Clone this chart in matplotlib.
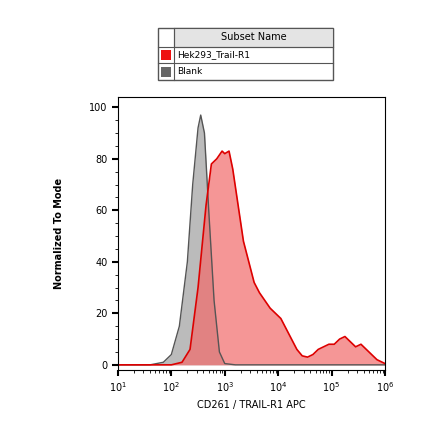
import numpy as np
import matplotlib
matplotlib.use("Agg")
import matplotlib.pyplot as plt
from matplotlib.patches import Rectangle
from matplotlib.ticker import LogLocator, NullFormatter

# data: log10 of intensity, normalized-to-mode value
blank_x = [1.0, 1.6, 1.85, 2.0, 2.15, 2.3, 2.4, 2.5, 2.55, 2.62, 2.7, 2.8, 2.9, 3.0, 3.2, 6.0]
blank_y = [0, 0, 1, 4, 15, 40, 70, 92, 97, 90, 60, 25, 5, 0.5, 0, 0]
red_x = [1.0, 2.0, 2.2, 2.35, 2.5, 2.65, 2.75, 2.85, 2.95, 3.0, 3.08, 3.15, 3.25, 3.35, 3.45, 3.55, 3.65,
         3.75, 3.85, 3.95, 4.05, 4.15, 4.25, 4.35, 4.45, 4.55, 4.65, 4.75, 4.85, 4.95, 5.05, 5.15,
         5.25, 5.35, 5.45, 5.55, 5.65, 5.75, 5.85, 6.0]
red_y = [0, 0, 1, 6, 30, 62, 78, 80, 83, 82, 83, 76, 62, 48, 40, 32, 28,
         25, 22, 20, 18, 14, 10, 6, 3.5, 3, 4, 6, 7, 8, 8, 10,
         11, 9, 7, 8, 6, 4, 2, 0.5]
legend_names = ["Hek293_Trail-R1", "Blank"]
legend_colors = ["#ee1111", "#666666"]

fig = plt.figure(figsize=(4.4, 4.41), dpi=100)
ax = fig.add_axes([0.268, 0.161, 0.607, 0.619])
bx = 10 ** np.array(blank_x)
rx = 10 ** np.array(red_x)
ax.fill_between(bx, blank_y, color="#b0b0b0", alpha=0.85, lw=0)
ax.plot(bx, blank_y, color="#555555", lw=1)
ax.fill_between(rx, red_y, color="#f26a6a", alpha=0.7, lw=0)
ax.plot(rx, red_y, color="#dd0000", lw=1.2)
ax.set_xscale("log")
ax.set_xlim(10, 1e6)
ax.set_ylim(-2, 104)
ax.set_yticks([0, 20, 40, 60, 80, 100])
ax.set_xticks([10, 1e2, 1e3, 1e4, 1e5, 1e6])
ax.set_xticklabels([r"$10^{%d}$" % i for i in range(1, 7)])
ax.xaxis.set_minor_locator(LogLocator(subs=np.arange(2, 10)))
ax.xaxis.set_minor_formatter(NullFormatter())
ax.yaxis.set_minor_locator(matplotlib.ticker.MultipleLocator(5))
ax.tick_params(labelsize=7, width=1.5, length=4)
ax.tick_params(which="minor", length=2)
ax.set_xlabel("CD261 / TRAIL-R1 APC", fontsize=7)
ax.set_ylabel("Normalized To Mode", fontsize=7, fontweight="bold", labelpad=18)

# legend table
def px(x, y):
    return x / 440, 1 - y / 441
W, H = 440, 441
x0, x1, xs = 158, 333, 174
rows = [28, 47, 63, 80]
t = fig.add_artist(Rectangle(px(x0, rows[-1]), (x1 - x0) / W, (rows[-1] - rows[0]) / H,
                             transform=fig.transFigure, fill=False, lw=1, ec="#555555"))
fig.add_artist(Rectangle(px(xs, rows[1]), (x1 - xs) / W, (rows[1] - rows[0]) / H,
                         transform=fig.transFigure, fc="#e4e4e4", lw=0.8, ec="#555555"))
for r in rows[1:3]:
    fig.add_artist(plt.Line2D([x0 / W, x1 / W], [1 - r / H] * 2, color="#555555", lw=0.8))
fig.add_artist(plt.Line2D([xs / W] * 2, [1 - rows[0] / H, 1 - rows[-1] / H], color="#555555", lw=0.8))
fig.text(*px((xs + x1) / 2, (rows[0] + rows[1]) / 2), "Subset Name", ha="center", va="center", fontsize=7)
for i, (n, c) in enumerate(zip(legend_names, legend_colors)):
    yc = (rows[i + 1] + rows[i + 2]) / 2
    fig.add_artist(Rectangle(px(161, yc + 5), 10 / W, 10 / H, transform=fig.transFigure, fc=c, ec="none"))
    fig.text(*px(xs + 3, yc), n, ha="left", va="center", fontsize=6.5)

fig.savefig("out.png", dpi=100)
